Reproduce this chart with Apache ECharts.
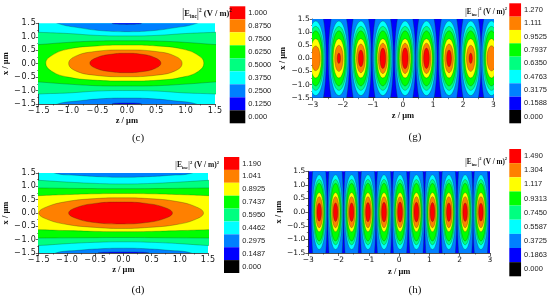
<!DOCTYPE html>
<html><head><meta charset="utf-8">
<style>html,body{margin:0;padding:0;background:#fff}#c{width:550px;height:296px;filter:blur(.4px)}</style>
<script src="https://cdn.jsdelivr.net/npm/echarts@6/dist/echarts.min.js"></script></head>
<body><div id="c"></div>
<script>
// Band colours, top of the colour bar first (index = level)
const levelColors = ['#ff0000','#ff8000','#ffff00','#00ff00','#00ff80','#00ffff','#0080ff','#0000ff','#000000'];

const barLabelsC = ['1.000','0.8750','0.7500','0.6250','0.5000','0.3750','0.2500','0.1250','0.000'];
const barLabelsD = ['1.190','1.041','0.8925','0.7437','0.5950','0.4462','0.2975','0.1487','0.000'];
const barLabelsG = ['1.270','1.111','0.9525','0.7937','0.6350','0.4763','0.3175','0.1588','0.000'];
const barLabelsH = ['1.490','1.304','1.117','0.9313','0.7450','0.5587','0.3725','0.1863','0.000'];

// Contour outlines: [level, [z,x] ...]
const contoursC = [
 [6,[-1.18,1.5],[-.8,1.33],[-.4,1.22],[0,1.19],[.4,1.22],[.8,1.33],[1.19,1.5],[1.3,1.7],[-1.3,1.7]],
 [6,[-1.18,-1.5],[-.8,-1.38],[-.4,-1.3],[0,-1.28],[.4,-1.3],[.8,-1.38],[1.18,-1.5],[1.3,-1.7],[-1.3,-1.7]],
 [7,[-.25,1.5],[0,1.46],[.25,1.5],[0,1.6]],
 [7,[-.25,-1.5],[0,-1.46],[.25,-1.5],[0,-1.6]],
 [4,[-1.9,1.2],[-1.5,1.165],[-1,1.12],[-.5,1.05],[0,1.03],[.5,1.05],[1,1.12],[1.5,1.165],[1.9,1.2],[1.9,-1.2],[1.5,-1.13],[1,-1.09],[.5,-1.02],[0,-1],[-.5,-1.02],[-1,-1.09],[-1.5,-1.13],[-1.9,-1.2]],
 [3,[-1.9,.66],[-1.5,.71],[-1,.79],[-.5,.84],[0,.85],[.5,.84],[1,.79],[1.5,.71],[1.9,.66],[1.9,-.62],[1.5,-.68],[1,-.76],[.5,-.82],[0,-.83],[-.5,-.82],[-1,-.76],[-1.5,-.68],[-1.9,-.62]],
 [2,[-1.38,.02],[-1.28,.3],[-1,.54],[-.5,.66],[0,.69],[.5,.66],[.95,.54],[1.22,.3],[1.31,.02],[1.22,-.28],[.95,-.5],[.5,-.62],[0,-.645],[-.5,-.62],[-1,-.5],[-1.28,-.28]],
 [1,[-.99,.01],[-.88,.27],[-.55,.45],[-.03,.51],[.5,.45],[.83,.27],[.94,.01],[.83,-.26],[.5,-.43],[-.03,-.485],[-.55,-.43],[-.88,-.26]],
 [0,[-.63,.02],[-.52,.22],[-.27,.35],[-.02,.385],[.25,.35],[.48,.22],[.58,.02],[.48,-.18],[.25,-.3],[-.02,-.335],[-.27,-.3],[-.52,-.18]]
];

// Contour outlines
const contoursD = [
 [6,[-1.22,1.5],[-.8,1.41],[-.4,1.36],[0,1.34],[.4,1.36],[.8,1.41],[1.22,1.5],[1.3,1.7],[-1.3,1.7]],
 [6,[-1.2,-1.5],[-.8,-1.4],[-.4,-1.34],[0,-1.32],[.4,-1.34],[.8,-1.4],[1.2,-1.5],[1.3,-1.7],[-1.3,-1.7]],
 [7,[-.45,-1.5],[0,-1.46],[.45,-1.5],[0,-1.6]],
 [4,[-1.9,1.26],[-1.5,1.225],[-1,1.16],[-.5,1.11],[0,1.09],[.5,1.11],[1,1.16],[1.5,1.225],[1.9,1.26],[1.9,-1.25],[1.5,-1.22],[1,-1.15],[.5,-1.1],[0,-1.08],[-.5,-1.1],[-1,-1.15],[-1.5,-1.22],[-1.9,-1.25]],
 [3,[-1.9,.95],[-1.5,.94],[-.75,.92],[0,.91],[.75,.92],[1.5,.94],[1.9,.95],[1.9,-.95],[1.5,-.94],[.75,-.93],[0,-.92],[-.75,-.93],[-1.5,-.94],[-1.9,-.95]],
 [2,[-1.9,.62],[-1.5,.65],[-1,.69],[-.5,.72],[0,.73],[.5,.72],[1,.69],[1.5,.65],[1.9,.62],[1.9,-.6],[1.5,-.625],[1,-.66],[.5,-.69],[0,-.7],[-.5,-.69],[-1,-.66],[-1.5,-.625],[-1.9,-.6]],
 [1,[-1.5,0],[-1.37,.22],[-1,.43],[-.5,.54],[-.04,.57],[.45,.54],[.95,.43],[1.3,.22],[1.42,0],[1.3,-.22],[.95,-.43],[.45,-.54],[-.04,-.58],[-.5,-.54],[-1,-.43],[-1.37,-.22]],
 [0,[-.97,0],[-.84,.2],[-.5,.36],[-.05,.41],[.4,.36],[.74,.2],[.87,0],[.74,-.2],[.4,-.36],[-.05,-.41],[-.5,-.36],[-.84,-.2]]
];

// Panel (g): shared outer contours [level, half-width z, half-height x]
const outerLevelsG = [[6,.35,2.2],[5,.3,1.42],[4,.27,1.22],[3,.235,1.05],[2,.19,.75]];
// Panel (g): lobes [z centre, orange half-z, orange half-x, red half-z, red half-x]
const lobesG = [[-2.9,.15,.47,0,0],[-2.13,.14,.5,.055,.2],[-1.4,.145,.55,.085,.32],[-.67,.15,.58,.095,.39],[.07,.15,.58,.1,.4],[.78,.15,.58,.095,.39],[1.53,.145,.55,.08,.32],[2.25,.14,.5,.055,.2],[2.94,.15,.48,0,0]];

// Panel (h): shared contours and lobes [z centre, red half-z, red half-x]
const outerLevelsH = [[6,.26,2.7],[5,.225,1.37],[4,.2,1.2],[3,.175,1.06],[2,.145,.72],[1,.115,.57]];
const lobesH = [[-2.64,.075,.33],[-2.1,.075,.34],[-1.57,.075,.34],[-1.03,.078,.35],[-.5,.08,.36],[.03,.08,.37],[.57,.08,.36],[1.1,.078,.35],[1.64,.075,.34],[2.18,.075,.34],[2.7,.075,.33]];

function lobeRowsG(){
  const rows=[];
  for(const l of lobesG){
    for(const o of outerLevelsG) rows.push([l[0],0,o[1],o[2],o[0]]);
    rows.push([l[0],0,l[1],l[2],1]);
    if(l[3]) rows.push([l[0],0,l[3],l[4],0]);
  }
  return rows;
}
function lobeRowsH(){
  const rows=[];
  for(const l of lobesH){
    for(const o of outerLevelsH) rows.push([l[0],0,o[1],o[2],o[0]]);
    rows.push([l[0],0,l[1],l[2],0]);
  }
  return rows;
}

const sans='"DejaVu Sans"', serif='"Liberation Serif"';
const grid=[],xAxis=[],yAxis=[],series=[],title=[];
const contourStyle={stroke:'rgba(20,50,20,.55)',lineWidth:.5};

function fmt(v,dec,gap){
  const s=v.toFixed(dec).replace('-','\u2212');
  return gap?s.split('').join('\u200a'):s;
}
function panel(p){
  const i=grid.length;
  grid.push({left:p.l,top:p.t,width:p.w,height:p.h,show:true,backgroundColor:p.bg,borderWidth:0});
  const label={fontFamily:sans,fontSize:p.fs,color:'#111',fontWeight:p.fw||'normal',hideOverlap:false,showMinLabel:true,showMaxLabel:true};
  const axisLine={show:true,onZero:false,lineStyle:{color:'#222',width:.8}};
  const axisTick={show:true,length:3,lineStyle:{color:'#222',width:.7}};
  const minorTick={show:true,splitNumber:2,length:1.5,lineStyle:{color:'#222',width:.6}};
  const name={fontFamily:serif,fontWeight:'bold',fontSize:p.nfs,color:'#111'};
  xAxis.push({gridIndex:i,type:'value',min:p.zMin,max:-p.zMin,interval:p.zStep,position:'bottom',
    axisLine,axisTick,minorTick,splitLine:{show:false},minorSplitLine:{show:false},
    axisLabel:{...label,margin:p.lm,formatter:v=>fmt(v,p.zDec,p.gap)},
    name:'z / \u03bcm',nameLocation:'middle',nameGap:p.xng,nameTextStyle:name});
  yAxis.push({gridIndex:i,type:'value',min:-1.5,max:1.5,interval:.5,position:'left',
    axisLine,axisTick,minorTick,splitLine:{show:false},minorSplitLine:{show:false},
    axisLabel:{...label,margin:3,formatter:v=>fmt(v,1,p.gap)},
    name:'x / \u03bcm',nameLocation:'middle',nameGap:p.yng,nameTextStyle:name});
  if(p.contours) series.push({type:'custom',xAxisIndex:i,yAxisIndex:i,clip:true,silent:true,animation:false,
    data:p.contours.map((c,k)=>[c[1][0],c[1][1],k]),
    encode:{x:0,y:1},
    renderItem:(params,api)=>{
      const c=p.contours[api.value(2)];
      return {type:'polygon',shape:{points:c.slice(1).map(q=>api.coord(q)),smooth:.45},
        style:{fill:levelColors[c[0]],...contourStyle}};
    }});
  if(p.lobes) series.push({type:'custom',xAxisIndex:i,yAxisIndex:i,clip:true,silent:true,animation:false,
    data:p.lobes,encode:{x:0,y:1},
    renderItem:(params,api)=>{
      const c=api.coord([api.value(0),api.value(1)]);
      const s=api.size([api.value(2),api.value(3)]);
      return {type:'ellipse',shape:{cx:c[0],cy:c[1],rx:s[0],ry:s[1]},
        style:{fill:levelColors[api.value(4)],...contourStyle}};
    }});
  // colour bar
  const j=grid.length;
  grid.push({left:p.bl,top:p.bt,width:p.bw,height:p.bh,show:false});
  xAxis.push({gridIndex:j,type:'value',min:0,max:1,show:false});
  yAxis.push({gridIndex:j,type:'category',inverse:true,data:p.bar,position:'right',
    axisLine:{show:false},axisTick:{show:false},
    axisLabel:{fontFamily:'"Liberation Sans"',fontSize:p.bfs,color:'#222',margin:3,interval:0}});
  series.push({type:'bar',xAxisIndex:j,yAxisIndex:j,barWidth:'100%',silent:true,animation:false,
    data:p.bar.map((b,k)=>({value:1,itemStyle:{color:levelColors[k]}}))});
  // heading and caption
  const f=p.tfs;
  title.push({left:p.tx,top:p.ty,textAlign:'center',textStyle:{rich:{
      p:{fontFamily:serif,fontSize:f*1.35,fontWeight:'normal',color:'#333'},
      b:{fontFamily:serif,fontSize:f,fontWeight:'bold',color:'#111'},
      s:{fontFamily:serif,fontSize:f*.62,fontWeight:'bold',color:'#111',verticalAlign:'bottom'},
      u:{fontFamily:serif,fontSize:f*.62,fontWeight:'bold',color:'#111',verticalAlign:'top'}}},
    text:'{p||}{b|E}{s|inc}{p||}{u|2}{b| (V / m)}{u|2}'});
  title.push({left:p.cx,top:p.cy,textAlign:'center',text:p.cap,
    textStyle:{fontFamily:serif,fontSize:11,fontWeight:'normal',color:'#111'}});
}

panel({l:35.7,t:23.3,w:179.3,h:80.7,bg:levelColors[5],zMin:-1.5,zStep:.5,zDec:1,gap:true,fs:8,lm:3,nfs:8.5,xng:11,yng:23,
  contours:contoursC,bar:barLabelsC,bl:229.7,bt:6.3,bw:15.6,bh:117,bfs:7.5,tx:202,ty:3,tfs:8.5,cap:'(c)',cx:133,cy:128});
panel({l:35.7,t:173,w:172.3,h:80,bg:levelColors[5],zMin:-1.5,zStep:.5,zDec:1,gap:true,fs:8,lm:3,nfs:8.5,xng:11,yng:23,
  contours:contoursD,bar:barLabelsD,bl:224,bt:157,bw:15.3,bh:116,bfs:7.5,tx:192,ty:155,tfs:7.5,cap:'(d)',cx:133,cy:280});
panel({l:312.7,t:19,w:180.6,h:78.7,bg:levelColors[7],zMin:-3,zStep:1,zDec:0,gap:false,fs:7.5,lm:3,nfs:8.5,xng:14,yng:24,
  lobes:lobeRowsG(),bar:barLabelsG,bl:509.3,bt:3.3,bw:15.7,bh:120,bfs:7.5,tx:481,ty:2,tfs:7.2,cap:'(g)',cx:410,cy:127});
panel({l:308.3,t:171.3,w:181.7,h:81.7,bg:levelColors[7],zMin:-3,zStep:1,zDec:0,gap:false,fs:7.5,lm:3,nfs:8.5,xng:14,yng:24,
  lobes:lobeRowsH(),bar:barLabelsH,bl:509.3,bt:149,bw:16.4,bh:127.3,bfs:7.5,tx:481,ty:152,tfs:7.2,cap:'(h)',cx:410,cy:280});

const chart=echarts.init(document.getElementById('c'),null,{renderer:'canvas'});
chart.setOption({animation:false,backgroundColor:'#fff',grid,xAxis,yAxis,series,title,tooltip:{show:false}});
</script></body></html>
